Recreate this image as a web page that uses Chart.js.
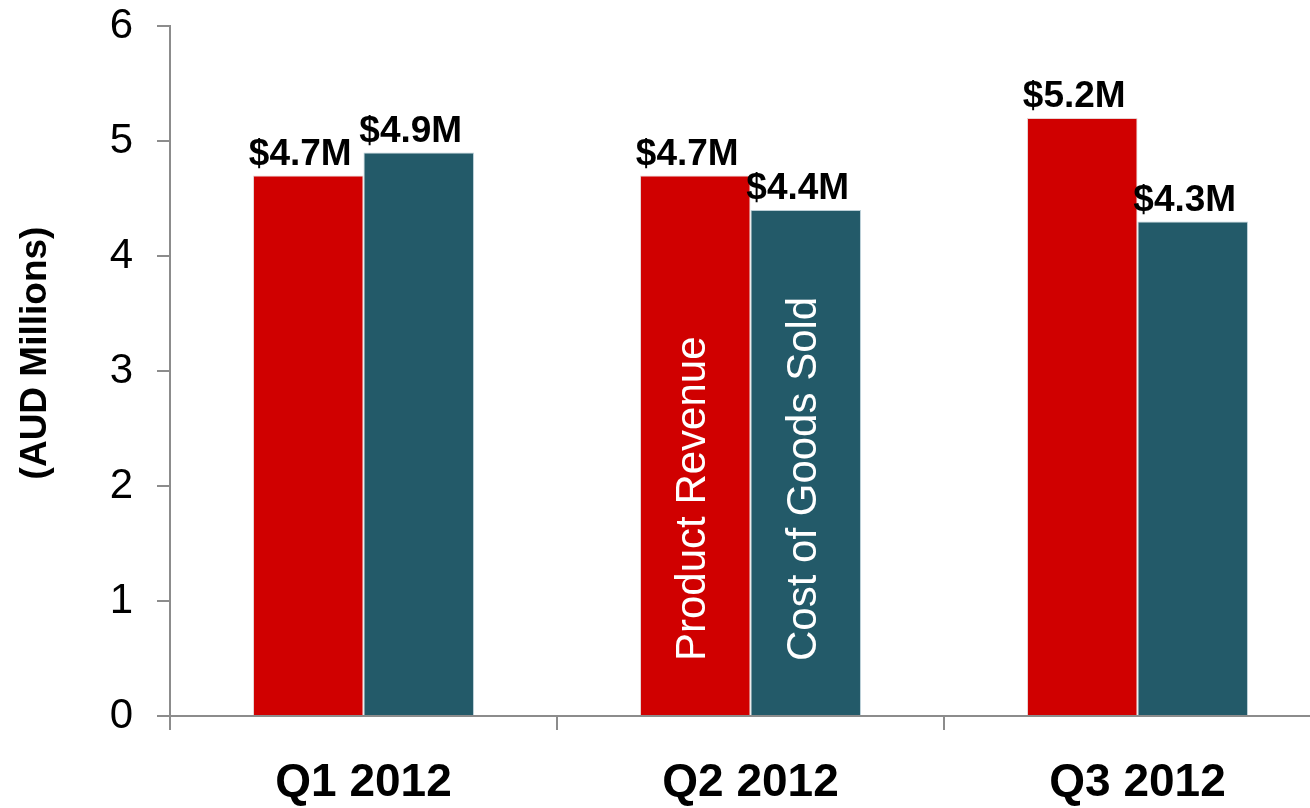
<!DOCTYPE html>
<html>
<head>
<meta charset="utf-8">
<script src="https://cdn.jsdelivr.net/npm/chart.js@4.4.1/dist/chart.umd.min.js"></script>
<style>
  html, body { margin: 0; padding: 0; background: #fff; overflow: hidden; }
  #wrap { width: 1310px; height: 808px; overflow: hidden; }
</style>
</head>
<body>
<div id="wrap"><canvas id="barChart" width="1335" height="808"></canvas></div>
<script>
const quarters = ['Q1 2012', 'Q2 2012', 'Q3 2012'];
const seriesNames = ['Product Revenue', 'Cost of Goods Sold'];
const revenue = [4.7, 4.7, 5.2];
const costOfGoods = [4.9, 4.4, 4.3];
const yTicks = [0, 1, 2, 3, 4, 5, 6];
const yAxisTitle = '(AUD Millions)';

const FONT = "'Liberation Sans', Arial, sans-serif";
const AXIS_GRAY = '#8c8c8c';

// "$4.7M" style labels over each bar
const valueLabels = {
    id: 'valueLabels',
    afterDatasetsDraw(chart) {
        const ctx = chart.ctx;
        ctx.save();
        ctx.font = 'bold 37px ' + FONT;
        ctx.fillStyle = '#000';
        ctx.textAlign = 'center';
        ctx.textBaseline = 'alphabetic';
        chart.data.datasets.forEach((ds, i) => {
            chart.getDatasetMeta(i).data.forEach((bar, j) => {
                ctx.fillText('$' + ds.data[j].toFixed(1) + 'M', bar.x - 8, bar.y - 11);
            });
        });
        ctx.restore();
    }
};

// series names written up the Q2 bars instead of a legend
const seriesInBars = {
    id: 'seriesInBars',
    afterDatasetsDraw(chart) {
        const ctx = chart.ctx;
        ctx.save();
        ctx.font = '42px ' + FONT;
        ctx.fillStyle = '#fff';
        ctx.textAlign = 'left';
        ctx.textBaseline = 'alphabetic';
        chart.data.datasets.forEach((ds, i) => {
            const bar = chart.getDatasetMeta(i).data[1];
            ctx.save();
            ctx.translate(bar.x + 10, bar.base - 54);
            ctx.rotate(-Math.PI / 2);
            ctx.fillText(ds.label, 0, 0);
            ctx.restore();
        });
        ctx.restore();
    }
};

// y axis caption, sitting a little above the middle of the axis
const yCaption = {
    id: 'yCaption',
    afterDraw(chart) {
        const ctx = chart.ctx;
        const area = chart.chartArea;
        ctx.save();
        ctx.font = 'bold 37px ' + FONT;
        ctx.fillStyle = '#000';
        ctx.textAlign = 'center';
        ctx.textBaseline = 'middle';
        ctx.translate(36, (area.top + area.bottom) / 2 - 18);
        ctx.rotate(-Math.PI / 2);
        ctx.fillText(yAxisTitle, 0, 0);
        ctx.restore();
    }
};

const ctx = document.getElementById('barChart').getContext('2d');
const myChart = new Chart(ctx, {
    type: 'bar',
    data: {
        labels: quarters,
        datasets: [
            {
                label: seriesNames[0],
                data: revenue,
                backgroundColor: '#d00000',
                borderColor: 'rgba(225,200,200,0.8)',
                borderWidth: 1
            },
            {
                label: seriesNames[1],
                data: costOfGoods,
                backgroundColor: '#235a69',
                borderColor: 'rgba(170,195,205,0.8)',
                borderWidth: 1
            }
        ]
    },
    options: {
        responsive: false,
        animation: false,
        devicePixelRatio: 1,
        layout: { padding: { top: 26, right: 4, bottom: 0, left: 0 } },
        datasets: {
            bar: { barPercentage: 1, categoryPercentage: 0.571 }
        },
        scales: {
            x: {
                grid: {
                    drawOnChartArea: false,
                    drawTicks: true,
                    tickLength: 14,
                    color: AXIS_GRAY,
                    lineWidth: 2
                },
                border: { color: AXIS_GRAY, width: 2 },
                ticks: {
                    color: '#000',
                    padding: 26,
                    font: { family: FONT, size: 46, weight: 'bold' }
                },
                afterFit: (scale) => { scale.height = 92; }
            },
            y: {
                min: yTicks[0],
                max: yTicks[yTicks.length - 1],
                afterBuildTicks: (scale) => { scale.ticks = yTicks.map(v => ({ value: v })); },
                grid: {
                    drawOnChartArea: false,
                    drawTicks: true,
                    tickLength: 13,
                    color: AXIS_GRAY,
                    lineWidth: 2
                },
                border: { color: AXIS_GRAY, width: 2 },
                ticks: {
                    color: '#000',
                    padding: 24,
                    font: { family: FONT, size: 42 }
                },
                afterFit: (scale) => {
                    scale.width = 170;
                    // tick padding is horizontal here, don't let it push the top down
                    scale.paddingTop = 0;
                    scale.paddingBottom = 0;
                }
            }
        },
        plugins: {
            legend: { display: false },
            title: { display: false },
            tooltip: { enabled: false }
        }
    },
    plugins: [valueLabels, seriesInBars, yCaption]
});
</script>
</body>
</html>
